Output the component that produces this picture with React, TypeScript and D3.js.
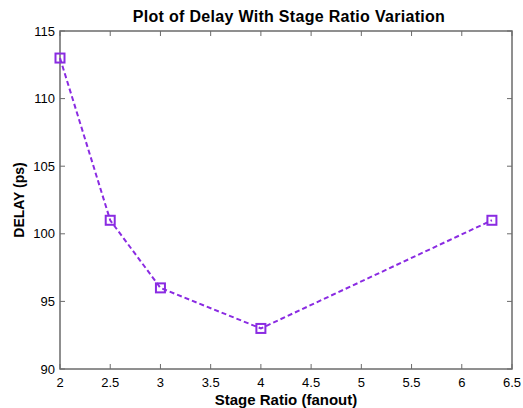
import React from 'react';
import * as d3 from 'd3';

const stageRatio = [2, 2.5, 3, 4, 6.3];
const delayPs = [113, 101, 96, 93, 101];
const xTicks = [2, 2.5, 3, 3.5, 4, 4.5, 5, 5.5, 6, 6.5];
const yTicks = [90, 95, 100, 105, 110, 115];

const W = 523;
const H = 408;
const m = { left: 60, right: 11, top: 31, bottom: 39 };

const App = () => {
  const x = d3.scaleLinear().domain([2, 6.5]).range([m.left, W - m.right]);
  const y = d3.scaleLinear().domain([90, 115]).range([H - m.bottom, m.top]);
  const pts = stageRatio.map((s, i) => [s, delayPs[i]] as [number, number]);
  const line = d3.line<[number, number]>().x((d) => x(d[0])).y((d) => y(d[1]));
  const axis = '#6b6b6b';
  const purple = '#8a2be2';
  const font = 'Arial, "Liberation Sans", sans-serif';
  const x0 = m.left, x1 = W - m.right, y0 = H - m.bottom, y1 = m.top;

  return (
    <svg width={W} height={H} style={{ position: 'absolute', left: 0, top: 0, background: '#fff' }} fontFamily={font}>
      <rect x={0} y={0} width={W} height={H} fill="#fff" />
      <text x={289} y={22} textAnchor="middle" fontSize={16} letterSpacing={0.3} fontWeight="bold" fill="#000">
        Plot of Delay With Stage Ratio Variation
      </text>
      {/* ticks, inward on all four sides */}
      {xTicks.map((t) => (
        <g key={'x' + t}>
          <line x1={x(t)} x2={x(t)} y1={y0} y2={y0 - 5} stroke={axis} />
          <line x1={x(t)} x2={x(t)} y1={y1} y2={y1 + 5} stroke={axis} />
          <text x={x(t)} y={y0 + 18} textAnchor="middle" fontSize={13} fill="#000">{t}</text>
        </g>
      ))}
      {yTicks.map((t) => (
        <g key={'y' + t}>
          <line x1={x0} x2={x0 + 5} y1={y(t)} y2={y(t)} stroke={axis} />
          <line x1={x1} x2={x1 - 5} y1={y(t)} y2={y(t)} stroke={axis} />
          <text x={x0 - 5} y={y(t) + 4.5} textAnchor="end" fontSize={13} fill="#000">{t}</text>
        </g>
      ))}
      <rect x={x0} y={y1} width={x1 - x0} height={y0 - y1} fill="none" stroke={axis} strokeWidth={1.5} />
      <text x={286} y={H - 3} textAnchor="middle" fontSize={15} fontWeight="bold" fill="#000">
        Stage Ratio (fanout)
      </text>
      <text transform={`translate(24,${(y0 + y1) / 2}) rotate(-90)`} textAnchor="middle" fontSize={14} fontWeight="bold" fill="#000">
        DELAY (ps)
      </text>
      <path d={line(pts) ?? ''} fill="none" stroke={purple} strokeWidth={2} strokeDasharray="5,3" />
      {pts.map((p, i) => (
        <rect key={i} x={x(p[0]) - 4.5} y={y(p[1]) - 4.5} width={9} height={9} fill="none" stroke={purple} strokeWidth={2} />
      ))}
    </svg>
  );
};

export default App;
